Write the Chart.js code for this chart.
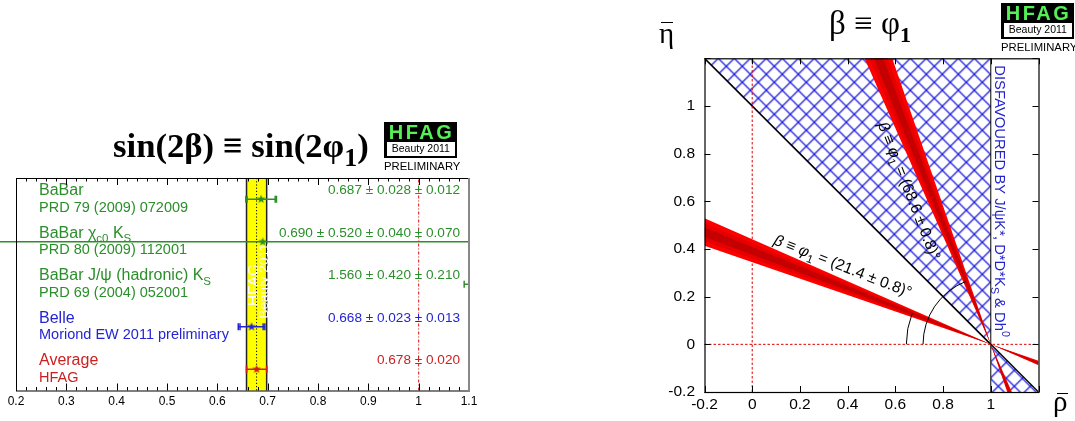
<!DOCTYPE html>
<html><head><meta charset="utf-8">
<script src="https://cdn.jsdelivr.net/npm/chart.js@4.4.1/dist/chart.umd.min.js"></script>
<style>
html,body{margin:0;padding:0;background:#fff;}
body{width:1075px;height:421px;position:relative;overflow:hidden;font-family:'Liberation Sans',Arial,sans-serif;}
canvas{position:absolute;top:0;}
#c1{left:0;}
#c2{left:640px;}
.abs{position:absolute;white-space:nowrap;}
.serif{font-family:'Liberation Serif','Times New Roman',serif;color:#000;}
.logo{position:absolute;width:73px;}
.logo .blk{background:#000;height:36px;position:relative;}
.logo .hf{color:#55f055;font:bold 20px 'Liberation Sans',Arial,sans-serif;letter-spacing:2.5px;text-align:center;line-height:20px;padding-left:2px;}
.logo .bt{position:absolute;left:2.7px;width:68.3px;top:20.6px;height:13.4px;background:#fff;color:#000;font:10.5px 'Liberation Sans',Arial,sans-serif;line-height:13.4px;text-align:center;}
.logo .pr{font:11.3px 'Liberation Sans',Arial,sans-serif;text-align:center;line-height:12px;margin-top:2.6px;color:#000;}
.bar{position:absolute;background:#000;height:1.4px;}
</style>
</head><body>
<canvas id="c1" width="540" height="421"></canvas>
<canvas id="c2" width="435" height="421"></canvas>

<div class="abs serif" style="left:113px;top:128.5px;font-weight:bold;font-size:34.7px;line-height:34px">sin(2β) ≡ sin(2φ<span style="font-size:26px;position:relative;top:9px">1</span>)</div>
<div class="logo" style="left:384px;top:121.7px"><div class="blk"><div class="hf">HFAG</div><div class="bt">Beauty 2011</div></div><div class="pr">PRELIMINARY</div></div>

<div class="abs serif" style="left:829px;top:7px;font-size:33px;line-height:33px">β ≡ φ<span style="font-size:22px;font-weight:bold;position:relative;top:8px">1</span></div>
<div class="logo" style="left:1001px;top:2.7px"><div class="blk"><div class="hf">HFAG</div><div class="bt">Beauty 2011</div></div><div class="pr">PRELIMINARY</div></div>

<div class="abs serif" style="left:659px;top:18.7px;font-size:29px;line-height:29px">η</div>
<div class="bar" style="left:661px;top:22px;width:12px"></div>
<div class="abs serif" style="left:1053px;top:386.7px;font-size:29px;line-height:29px">ρ</div>
<div class="bar" style="left:1057px;top:392.6px;width:11px"></div>

<script>
const fontSans = "'Liberation Sans', Arial, Helvetica, sans-serif";

// ---------------- left panel: sin(2beta) measurements ----------------
const measNames = ['BaBar', 'BaBar χ_{c0} K_{S}', 'BaBar J/ψ (hadronic) K_{S}', 'Belle', 'Average'];
const measRefs = ['PRD 79 (2009) 072009', 'PRD 80 (2009) 112001', 'PRD 69 (2004) 052001', 'Moriond EW 2011 preliminary', 'HFAG'];
const measCentral = [0.687, 0.690, 1.560, 0.668, 0.678];
const measStat = [0.028, 0.520, 0.420, 0.023, 0.020];
const measSyst = [[0.012], [0.040, 0.070], [0.210], [0.013], []];
const measColors = ['#2a8f2a', '#2a8f2a', '#2a8f2a', '#2424d4', '#cc1f1f'];
const sin2bAxis = { min: 0.2, max: 1.1, step: 0.1, minor: 0.02 };
const sin2bRef = 1.0;
const avgIndex = 4;

// ---------------- right panel: (rho, eta) plane ----------------
const betaCentral = [21.4, 68.6];
const betaError = 0.8;
const sigmaLevels = [3, 2, 1];
const sigmaColors = ['#ff0000', '#e60000', '#c40000'];
const apex = { rho: 1, eta: 0 };
const disfavouredAngle = 45;
const rhoAxis = { min: -0.2, max: 1.2, step: 0.2, lastLabel: 1.0 };
const etaAxis = { min: -0.2, max: 1.2, step: 0.2, lastLabel: 1.0 };
const arcRadius = [0.354, 0.284];

// ---------------- helpers ----------------
function parseRich(str){
  const segs=[]; let i=0, buf='';
  const flush=()=>{ if(buf){segs.push({t:buf,k:'n'}); buf='';} };
  while(i<str.length){
    const ch=str[i];
    if((ch==='_'||ch==='^'||ch==='~') && str[i+1]==='{'){
      flush();
      const end=str.indexOf('}',i+2);
      segs.push({t:str.slice(i+2,end),k: ch==='_'?'sub':ch==='^'?'sup':'it'});
      i=end+1;
    } else {buf+=ch;i++;}
  }
  flush(); return segs;
}
function drawRich(ctx,str,x,y,size,color,align,family){
  family = family||fontSans;
  const segs=parseRich(str);
  const fontFor=k=> (k==='sub'||k==='sup') ? `${(size*0.72).toFixed(2)}px ${family}` : k==='it' ? `italic ${size}px ${family}` : `${size}px ${family}`;
  let w=0; segs.forEach(s=>{ctx.font=fontFor(s.k); s.w=ctx.measureText(s.t).width; w+=s.w;});
  let cx = align==='right'? x-w : align==='center'? x-w/2 : x;
  ctx.save(); ctx.fillStyle=color; ctx.textBaseline='alphabetic'; ctx.textAlign='left';
  segs.forEach(s=>{ctx.font=fontFor(s.k); const dy = s.k==='sub'? size*0.28 : s.k==='sup'? -size*0.42 : 0; ctx.fillText(s.t,cx,y+dy); cx+=s.w;});
  ctx.restore();
  return w;
}
function makeStar(color, r){
  const c=document.createElement('canvas'); const s=Math.ceil(2*r+2); c.width=c.height=s;
  const g=c.getContext('2d'); g.fillStyle=color; g.beginPath();
  for(let k=0;k<10;k++){const rr=k%2?r*0.42:r; const a=-Math.PI/2+k*Math.PI/5; const px=s/2+rr*Math.cos(a), py=s/2+rr*Math.sin(a); k?g.lineTo(px,py):g.moveTo(px,py);}
  g.closePath(); g.fill(); return c;
}
const fmt = v => String(Number(v.toFixed(2)));

// ================= LEFT CHART =================
const nRows = measNames.length;
const rowY = i => nRows - i - 0.5;
const totErr = i => Math.sqrt(measStat[i]**2 + measSyst[i].reduce((s,v)=>s+v*v,0));
const leftSets = [];
leftSets.push({ data:[{x:sin2bRef,y:0},{x:sin2bRef,y:nRows}], borderColor:'#dd1111', borderWidth:1, borderDash:[3,2,1,2], pointRadius:0, order:50 });
measNames.forEach((nm,i)=>{
  const c=measCentral[i], t=totErr(i), s=measStat[i], y=rowY(i), col=measColors[i];
  const common={borderColor:col, pointBorderColor:col, pointBackgroundColor:col, pointStyle:'line', pointRotation:90, pointRadius:3.6, pointBorderWidth:1.5, pointHoverRadius:3.6, clip:{left:16,top:0,right:0,bottom:0}};
  leftSets.push(Object.assign({ data:[{x:c-t,y},{x:c+t,y}], borderWidth:1.5, showLine:true, order:10 }, common));
  leftSets.push(Object.assign({ data:[{x:c-s,y},{x:c+s,y}], borderWidth:0, showLine:false, order:9 }, common));
  leftSets.push({ data:[{x:c,y}], showLine:false, pointStyle:makeStar(col,4.6), pointRadius:4.6, pointHoverRadius:4.6, order:5 });
});

const leftPlugin = {
  id:'leftDeco',
  beforeDatasetsDraw(chart){
    const {ctx, chartArea:ca, scales:{x}} = chart;
    const a=measCentral[avgIndex], e=measStat[avgIndex];
    const x1=x.getPixelForValue(a-e), x2=x.getPixelForValue(a+e), xm=x.getPixelForValue(a);
    ctx.save();
    ctx.fillStyle='#ffff00'; ctx.fillRect(x1, ca.top, x2-x1, ca.bottom-ca.top);
    ctx.strokeStyle='#222'; ctx.lineWidth=1.5;
    ctx.beginPath(); ctx.moveTo(x1,ca.top); ctx.lineTo(x1,ca.bottom); ctx.moveTo(x2,ca.top); ctx.lineTo(x2,ca.bottom); ctx.stroke();
    ctx.fillStyle='#ffffff'; ctx.textAlign='center'; ctx.textBaseline='alphabetic';
    ctx.translate(x1+11.5, 285); ctx.rotate(-Math.PI/2);
    ctx.font=`15.5px ${fontSans}`; ctx.fillText('HFAG',0,0);
    ctx.font=`13.5px ${fontSans}`; ctx.fillText('Beauty 2011',4,9.5);
    ctx.restore();
    ctx.save(); ctx.strokeStyle='#000'; ctx.lineWidth=1; ctx.setLineDash([1.2,2]);
    ctx.beginPath(); ctx.moveTo(xm,ca.top); ctx.lineTo(xm,ca.bottom); ctx.stroke(); ctx.restore();
  },
  afterDatasetsDraw(chart){
    const {ctx, chartArea:ca, scales:{x,y}} = chart;
    measNames.forEach((nm,i)=>{
      const py=y.getPixelForValue(rowY(i)), col=measColors[i];
      drawRich(ctx, nm, ca.left+23, py-4, 16, col, 'left');
      drawRich(ctx, measRefs[i], ca.left+23, py+12.7, 14.5, col, 'left');
      const txt=[measCentral[i], measStat[i], ...measSyst[i]].map(v=>v.toFixed(3)).join(' ± ');
      drawRich(ctx, txt, ca.right-9, py-5, 13.6, col, 'right');
    });
  },
  afterDraw(chart){
    const {ctx, chartArea:ca, scales:{x}} = chart;
    ctx.save(); ctx.strokeStyle='#000'; ctx.lineWidth=1;
    ctx.beginPath();
    for(let v=sin2bAxis.min; v<=sin2bAxis.max+1e-9; v+=sin2bAxis.minor){
      const px=Math.round(x.getPixelForValue(v))+0.5;
      const major=Math.abs(v/sin2bAxis.step-Math.round(v/sin2bAxis.step))<1e-6;
      const L=major?7:3.5;
      ctx.moveTo(px,ca.bottom); ctx.lineTo(px,ca.bottom-L);
      ctx.moveTo(px,ca.top); ctx.lineTo(px,ca.top+L);
    }
    ctx.stroke();
    ctx.strokeRect(ca.left+0.5, ca.top+0.5, ca.right-ca.left, ca.bottom-ca.top);
    ctx.strokeStyle='#888'; ctx.lineWidth=2; ctx.beginPath(); ctx.moveTo(ca.right,ca.top); ctx.lineTo(ca.right,ca.bottom+1); ctx.stroke();
    ctx.restore();
  }
};

new Chart(document.getElementById('c1'), {
  type:'line',
  data:{datasets:leftSets},
  plugins:[leftPlugin],
  options:{
    responsive:false, animation:false, devicePixelRatio:1, events:[],
    layout:{padding:{top:178,left:16,right:71,bottom:0}},
    plugins:{legend:{display:false},tooltip:{enabled:false}},
    scales:{
      x:{type:'linear',min:sin2bAxis.min,max:sin2bAxis.max,
         grid:{display:false,drawTicks:false,tickLength:0},border:{display:false},
         afterFit(s){s.height=30.5;},
         ticks:{stepSize:sin2bAxis.step,color:'#000',font:{family:fontSans,size:12},padding:4,maxRotation:0,autoSkip:false,callback:v=>fmt(v)}},
      y:{type:'linear',min:0,max:nRows,display:false}
    }
  }
});

// ================= RIGHT CHART =================
const tanD = d => Math.tan(d*Math.PI/180);
const etaOnRay = (r,ang) => (apex.rho-r)*tanD(ang);
const edgePts = ang => [rhoAxis.min, rhoAxis.max].map(r=>({x:r, y:etaOnRay(r,ang)}));

function makeHatch(){
  const T=16, c=document.createElement('canvas'); c.width=c.height=T;
  const g=c.getContext('2d'); g.strokeStyle='#1c1cdc'; g.lineWidth=1.25;
  g.beginPath(); g.moveTo(-1,-1); g.lineTo(T+1,T+1); g.moveTo(T+1,-1); g.lineTo(-1,T+1); g.stroke();
  const p=g.createPattern(c,'repeat');
  try{ p.setTransform(new DOMMatrix().translate(14.3,10.3)); }catch(e){}
  return p;
}
const hatch = makeHatch();

const rightSets = [];
rightSets.push({ data:[{x:rhoAxis.min,y:etaOnRay(rhoAxis.min,disfavouredAngle)},{x:apex.rho,y:apex.eta}], fill:'end', backgroundColor:hatch, borderColor:'#000', borderWidth:1.6, pointRadius:0, order:100 });
rightSets.push({ data:[{x:apex.rho,y:apex.eta},{x:rhoAxis.max,y:etaOnRay(rhoAxis.max,disfavouredAngle)}], fill:'start', backgroundColor:hatch, borderColor:'#000', borderWidth:1.3, pointRadius:0, order:100 });
rightSets.push({ data:[{x:apex.rho,y:etaAxis.min},{x:apex.rho,y:etaAxis.max}], borderColor:'#000', borderWidth:1, pointRadius:0, order:95 });
rightSets.push({ data:[{x:0,y:etaAxis.min},{x:0,y:etaAxis.max}], borderColor:'#dd0000', borderWidth:1, borderDash:[2.5,2], pointRadius:0, order:80 });
rightSets.push({ data:[{x:rhoAxis.min,y:0},{x:rhoAxis.max,y:0}], borderColor:'#dd0000', borderWidth:1, borderDash:[2.5,2], pointRadius:0, order:80 });
let ord=60;
betaCentral.forEach(b=>{
  sigmaLevels.forEach((n,k)=>{
    const idx=rightSets.length;
    rightSets.push({ data:edgePts(b+n*betaError), fill:{target:idx+1}, backgroundColor:sigmaColors[k], borderWidth:0, borderColor:'rgba(0,0,0,0)', pointRadius:0, order:ord });
    rightSets.push({ data:edgePts(b-n*betaError), fill:false, borderWidth:0, borderColor:'rgba(0,0,0,0)', pointRadius:0, order:ord });
    ord--;
  });
});

const labelAnchors = [{rho:0.086, eta:0.421}, {rho:0.526, eta:0.922}];

const rightPlugin = {
  id:'rightDeco',
  afterDatasetsDraw(chart){
    const {ctx, chartArea:ca, scales:{x,y}} = chart;
    const cx=x.getPixelForValue(apex.rho), cy=y.getPixelForValue(apex.eta);
    const ux=x.getPixelForValue(1)-x.getPixelForValue(0), uy=y.getPixelForValue(0)-y.getPixelForValue(1);
    ctx.save(); ctx.strokeStyle='#000'; ctx.lineWidth=1;
    betaCentral.forEach((b,i)=>{
      ctx.beginPath(); ctx.ellipse(cx,cy,arcRadius[i]*ux,arcRadius[i]*uy,0,Math.PI,Math.PI+b*Math.PI/180,false); ctx.stroke();
    });
    ctx.restore();
    betaCentral.forEach((b,i)=>{
      const ang=Math.atan2(tanD(b)*uy, ux);
      const px=x.getPixelForValue(labelAnchors[i].rho), py=y.getPixelForValue(labelAnchors[i].eta);
      ctx.save(); ctx.translate(px,py); ctx.rotate(ang);
      drawRich(ctx, `~{β} ≡ ~{φ}_{1} = (${b.toFixed(1)} ± ${betaError.toFixed(1)})°`, 0, 0, 15.6, '#000', 'left');
      ctx.restore();
    });
    ctx.save(); ctx.translate(cx+4.5, ca.top+7); ctx.rotate(Math.PI/2);
    drawRich(ctx, 'DISFAVOURED BY J/ψK*, D*D*K_{S} & Dh^{0}', 0, 0, 14.8, '#2222cc', 'left');
    ctx.restore();
  },
  afterDraw(chart){
    const {ctx, chartArea:ca, scales:{x,y}} = chart;
    ctx.save(); ctx.strokeStyle='#000'; ctx.lineWidth=1; ctx.beginPath();
    const L=6;
    for(let v=rhoAxis.min; v<=rhoAxis.max+1e-9; v+=rhoAxis.step){
      const px=Math.round(x.getPixelForValue(v))+0.5;
      ctx.moveTo(px,ca.bottom); ctx.lineTo(px,ca.bottom-L); ctx.moveTo(px,ca.top); ctx.lineTo(px,ca.top+L);
    }
    for(let v=etaAxis.min; v<=etaAxis.max+1e-9; v+=etaAxis.step){
      const py=Math.round(y.getPixelForValue(v))+0.5;
      ctx.moveTo(ca.left,py); ctx.lineTo(ca.left+L,py); ctx.moveTo(ca.right,py); ctx.lineTo(ca.right-L,py);
    }
    ctx.stroke();
    ctx.lineWidth=1.2;
    ctx.strokeRect(ca.left+0.5, ca.top+0.5, ca.right-ca.left, ca.bottom-ca.top);
    ctx.restore();
  }
};

new Chart(document.getElementById('c2'), {
  type:'line',
  data:{datasets:rightSets},
  plugins:[rightPlugin],
  options:{
    responsive:false, animation:false, devicePixelRatio:1, events:[],
    layout:{padding:{top:58.3,left:0,right:36.5,bottom:0}},
    plugins:{legend:{display:false},tooltip:{enabled:false},filler:{propagate:false}},
    scales:{
      x:{type:'linear',min:rhoAxis.min,max:rhoAxis.max,
         grid:{display:false,drawTicks:false,tickLength:0},border:{display:false},
         afterFit(s){s.height=29;},
         ticks:{stepSize:rhoAxis.step,color:'#000',font:{family:fontSans,size:15.5},padding:3,maxRotation:0,autoSkip:false,
                callback:v=> v>rhoAxis.lastLabel+1e-6 ? '' : fmt(v)}},
      y:{type:'linear',min:etaAxis.min,max:etaAxis.max,
         grid:{display:false,drawTicks:false,tickLength:0},border:{display:false},
         afterFit(s){s.width=64.5;},
         ticks:{stepSize:etaAxis.step,color:'#000',font:{family:fontSans,size:15.5},padding:9.5,autoSkip:false,
                callback:v=> v>etaAxis.lastLabel+1e-6 ? '' : fmt(v)}}
    }
  }
});
</script>
</body></html>
